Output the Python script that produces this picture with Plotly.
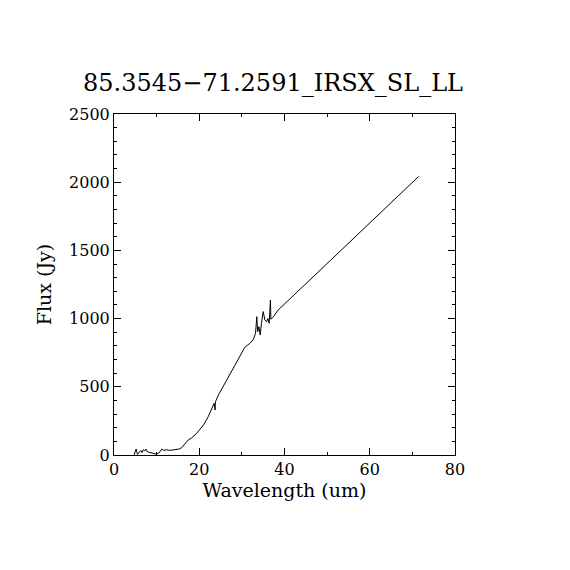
import plotly.graph_objects as go

# spectrum
wavelength = [4.7, 5.2, 5.5, 5.9, 6.3, 6.6, 6.9, 7.2, 7.5, 7.8, 8.4, 9.2, 10.0,
              10.8, 11.2, 11.6, 12.3, 13.1, 13.7, 14.3, 15.3, 15.9, 16.7, 17.4,
              18.2, 19.4, 20.2, 21.0, 22.1, 23.0, 23.5, 23.7, 23.8, 24.5, 25.6,
              26.4, 26.8, 27.6, 28.8, 30.0, 30.7, 31.3, 31.9, 32.7, 33.2, 33.5,
              33.7, 34.0, 34.3, 34.6, 35.0, 35.4, 35.8, 36.1, 36.4, 36.7, 36.8,
              37.4, 38.5, 45.0, 55.0, 65.0, 71.5]
flux = [0, 44, 5, 24, 34, 18, 39, 30, 44, 24, 20, 10, 5,
        24, 44, 34, 38, 34, 36, 39, 44, 54, 83, 110,
        125, 159, 190, 220, 281, 340, 379, 330, 390, 440, 501,
        555, 574, 611, 684, 745, 790, 805, 819, 848, 892, 1014,
        904, 941, 880, 966, 1051, 990, 977, 1000, 966, 1136, 995,
        1014, 1063, 1255, 1552, 1850, 2043]

x_ticks = [0, 20, 40, 60, 80]
y_ticks = [0, 500, 1000, 1500, 2000, 2500]

font = "DejaVu Serif, Liberation Serif, serif"

fig = go.Figure(go.Scatter(x=wavelength, y=flux, mode='lines',
                           line=dict(color='black', width=1)))

# page body adds 8px, so margins are shifted to put the box at 114..455
fig.update_layout(
    width=570, height=570,
    margin=dict(l=106, r=123, t=106, b=123),
    paper_bgcolor='white', plot_bgcolor='white',
    showlegend=False,
    font=dict(family=font, color='black', size=16),
    title=dict(text='85.3545\u221271.2591_IRSX_SL_LL', x=0.465, xanchor='center',
               y=0.87, yanchor='middle', font=dict(size=24)),
)
fig.update_xaxes(
    range=[0, 80], tickvals=x_ticks, ticks='inside', ticklen=7,
    tickcolor='black', showline=True, linecolor='black', linewidth=1,
    mirror='ticks', showgrid=False, zeroline=False,
    minor=dict(ticks='inside', dtick=10, ticklen=3, tickcolor='black'),
    title=dict(text='Wavelength (um)', standoff=5),
)
fig.update_yaxes(
    range=[0, 2500], tickvals=y_ticks, ticks='inside', ticklen=7,
    tickcolor='black', showline=True, linecolor='black', linewidth=1,
    mirror='ticks', showgrid=False, zeroline=False,
    minor=dict(ticks='inside', dtick=100, ticklen=3, tickcolor='black'),
    title=dict(text='Flux (Jy)', standoff=12),
)

fig.write_html("out.html")
